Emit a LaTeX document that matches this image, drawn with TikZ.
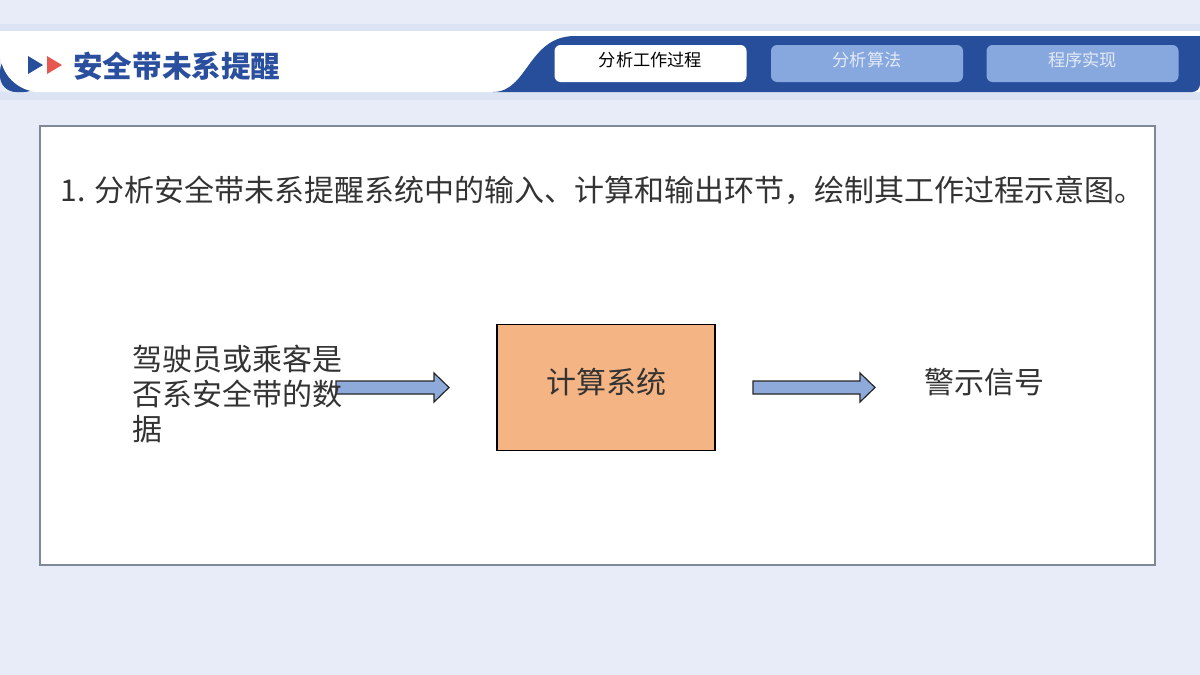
\documentclass[tikz,border=0pt]{standalone}
\usepackage{fontspec}
\setmainfont{Noto Sans CJK SC}
\usetikzlibrary{calc,positioning}
\definecolor{pagebg}{HTML}{E7ECF8}
\definecolor{shadebg}{HTML}{DCE4F3}
\definecolor{bandblue}{HTML}{264E9B}
\definecolor{tabblue}{HTML}{87A8DE}
\definecolor{tabtext}{HTML}{E3EAF6}
\definecolor{boxorange}{HTML}{F4B483}
\definecolor{arrowblue}{HTML}{8EAADB}
\definecolor{inkgray}{HTML}{333333}
\definecolor{titleblue}{HTML}{2A4F9E}
\definecolor{framegray}{HTML}{7F8896}
\definecolor{alertred}{HTML}{E8574F}
\tikzset{
  tabbox/.style={rounded corners=3pt, minimum width=96pt, minimum height=18.5pt,
    inner sep=0pt, text height=4.5pt, text depth=1.8pt, font=\fontsize{8.6}{10}\selectfont},
  bodytext/.style={inner sep=0pt, text=inkgray, font=\fontsize{15}{17.5}\selectfont},
  fatarrow/.style={draw=black!85, fill=arrowblue, line width=0.6pt, line join=miter}
}
\newcommand\drawfatarrow[2]{%
  \draw[fatarrow] ($(#1)+(0,-6.5)$) -- ($(#2)+(-15,-6.5)$) -- ($(#2)+(-15,-14.5)$)
    -- (#2) -- ($(#2)+(-15,14.5)$) -- ($(#2)+(-15,6.5)$) -- ($(#1)+(0,6.5)$) -- cycle;}

\begin{document}
\begin{tikzpicture}[x=0.5pt, y=-0.5pt]
\useasboundingbox (0,0) rectangle (1200,675);
\fill[pagebg] (0,0) rectangle (1200,675);
\fill[shadebg] (0,24) rectangle (1200,31);
\fill[shadebg] (0,92) rectangle (1200,100);

\fill[bandblue, rounded corners=8pt] (0,55) |- (40,92) -- (40,55) -- cycle;
\fill[white] (0,31) -- (0,70) [rounded corners=20pt] |- (300,92) [sharp corners] -- (1200,92)
  -- (1200,31) -- cycle;
\fill[bandblue] (493,92) .. controls (528,92) and (528,36) .. (575,36)
  -- (1200,36) [rounded corners=4pt] -- (1200,92) [sharp corners] -- cycle;

\fill[bandblue] (28,56) -- (28,74) -- (43,65) -- cycle;
\fill[alertred] (47,56) -- (47,74) -- (62,65) -- cycle;
\node[anchor=west, inner sep=0pt, text=titleblue, font=\fontsize{14.8}{17}\selectfont\bfseries]
  (title) at (73,66) {安全带未系提醒};

\node[tabbox, fill=white, text=black] (tabA) at (650.5,63.5) {分析工作过程};
\node[tabbox, fill=tabblue, text=tabtext] (tabB) at (867,63.5) {分析算法};
\node[tabbox, fill=tabblue, text=tabtext] (tabC) at (1082.5,63.5) {程序实现};

\draw[framegray, line width=0.8pt, fill=white] (40,126) rectangle (1155,565);
\node[bodytext, anchor=west] (task) at (60,190)
  {1. 分析安全带未系提醒系统中的输入、计算和输出环节，绘制其工作过程示意图。};

\node[draw=black, line width=0.6pt, fill=boxorange, minimum width=109pt, minimum height=63pt,
  bodytext, text height=9pt, text depth=3pt] (calc) at (606,387.5) {计算系统};

\coordinate (inA) at (336,387.5);
\coordinate (inB) at (449,387.5);
\coordinate (outA) at (753,387.5);
\coordinate (outB) at (875,387.5);
\drawfatarrow{inA}{inB}
\drawfatarrow{outA}{outB}

\node[bodytext, anchor=west, align=left] (seatdata) at (132,394)
  {驾驶员或乘客是\\否系安全带的数\\据};
\node[bodytext, anchor=west] (alarm) at (924,382) {警示信号};
\end{tikzpicture}
\end{document}
